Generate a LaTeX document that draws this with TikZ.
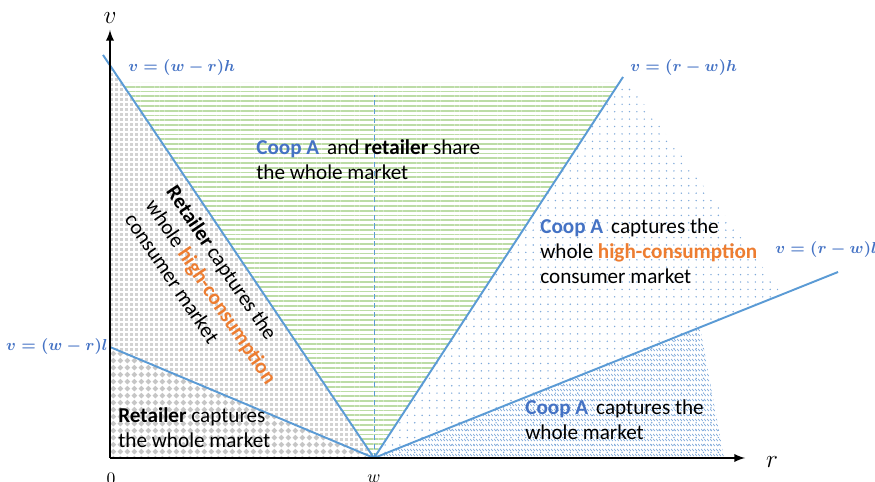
\documentclass[tikz,border=0pt]{standalone}
\usepackage{amsmath}
\usepackage{amssymb}
\usepackage[no-math]{fontspec}
\setmainfont{Carlito}
\usepackage{tikz}
\usetikzlibrary{arrows,%
                patterns,patterns.meta}
\definecolor{lineblue}{HTML}{5B9BD5}
\definecolor{coopblue}{HTML}{4472C4}
\definecolor{hcorange}{HTML}{ED7D31}
\definecolor{stripegreen}{HTML}{BCDCA6}
\definecolor{dotblue}{HTML}{7FA9DA}
\pgfdeclarepatternformonly{smallcheck}{\pgfqpoint{0pt}{0pt}}{\pgfqpoint{3pt}{3pt}}{\pgfqpoint{3pt}{3pt}}{%
  \pgfpathrectangle{\pgfqpoint{0pt}{0pt}}{\pgfqpoint{1.8pt}{1.8pt}}\pgfusepath{fill}}
\pgfdeclarepatternformonly{diamonds}{\pgfqpoint{0pt}{0pt}}{\pgfqpoint{3.9pt}{3.9pt}}{\pgfqpoint{3.9pt}{3.9pt}}{%
  \pgfpathmoveto{\pgfqpoint{1.95pt}{0.35pt}}\pgfpathlineto{\pgfqpoint{3.55pt}{1.95pt}}%
  \pgfpathlineto{\pgfqpoint{1.95pt}{3.55pt}}\pgfpathlineto{\pgfqpoint{0.35pt}{1.95pt}}%
  \pgfpathclose\pgfusepath{fill}}
\pgfdeclarepatternformonly{dashdiag}{\pgfqpoint{0pt}{0pt}}{\pgfqpoint{1.8pt}{2.8pt}}{\pgfqpoint{1.8pt}{2.8pt}}{%
  \pgfsetlinewidth{0.45pt}\pgfpathmoveto{\pgfqpoint{0.1pt}{2.3pt}}%
  \pgfpathlineto{\pgfqpoint{1.3pt}{1.1pt}}\pgfusepath{stroke}}
\tikzstyle{bound}=[draw=lineblue,line width=1.1pt]
\tikzstyle{midline}=[draw=lineblue,line width=0.5pt,dash pattern=on 3pt off 2pt]
\tikzstyle{axis}=[draw=black,line width=1.1pt]
\tikzstyle{txt}=[inner sep=0pt,align=left,font=\fontsize{12}{14.2}\selectfont]
\tikzstyle{eq}=[inner sep=0pt,text=coopblue,font=\fontsize{9.5}{10}\selectfont\mathversion{bold}]
\newcommand{\coop}{\textcolor{coopblue}{\textbf{Coop A}}}
\newcommand{\hicon}{\textcolor{hcorange}{\textbf{high-consumption}}}

\begin{document}
\begin{tikzpicture}[>=latex,line join=bevel,scale=0.565]
	  \useasboundingbox (-110bp,-24bp) rectangle (765bp,458bp);
	  \coordinate (O) at (0bp,0bp);
	  \coordinate (W) at (264bp,0bp);
	  \coordinate (R) at (635bp,0bp);
	  \coordinate (V) at (0bp,428bp);
	  \coordinate (Hl) at (-7bp,403bp);
	  \coordinate (Hr) at (513bp,381bp);
	  \coordinate (Ll) at (0bp,111bp);
	  \coordinate (Lr) at (728bp,186bp);
	  \coordinate (Hv) at (0bp,393bp);
	  \coordinate (Top) at (264bp,363bp);
	  % regions
	  \fill [pattern=diamonds,pattern color=gray!45] (O) -- (Ll) -- (W) -- cycle;
	  \fill [pattern=smallcheck,pattern color=gray!35] (Ll) -- (Hv) -- (W) -- cycle;
	  \fill [pattern={Lines[angle=0,distance=2.7pt,line width=1pt]},pattern color=stripegreen] (12bp,375bp) -- (509bp,375bp) -- (W) -- cycle;
	  \fill [pattern={Dots[distance=4.2pt,radius=0.45pt]},pattern color=dotblue] (W) -- (508bp,373bp) -- (520bp,373bp) -- (672bp,164bp) -- (590bp,131bp) -- (614bp,0bp) -- cycle;
	  \fill [pattern=dashdiag,pattern color=dotblue] (W) -- (590bp,131bp) -- (614bp,0bp) -- cycle;
	  % boundaries
	  \draw [midline] (W) -- (Top);
	  \draw [bound] (Hl) -- (W) -- (Hr);
	  \draw [bound] (Ll) -- (W) -- (Lr);
	  \draw [axis,->] (O) -- (R);
	  \draw [axis,->] (O) -- (V);
	  % axis labels
	  \node (v) at (0bp,440bp) {\Large$v$};
	  \node (r) at (662bp,-4bp) {\Large$r$};
	  \node (zero) at (1bp,-21bp) {\fontsize{10}{12}\selectfont$0$};
	  \node (w) at (264bp,-21bp) {\fontsize{10}{12}\selectfont$w$};
	  % equations
	  \node (eqHl) at (18bp,390bp) [eq,anchor=west] {$v=(w-r)h$};
	  \node (eqHr) at (520bp,390bp) [eq,anchor=west] {$v=(r-w)h$};
	  \node (eqLl) at (-2bp,111bp) [eq,anchor=east] {$v=(w-r)l$};
	  \node (eqLr) at (665bp,208bp) [eq,anchor=west] {$v=(r-w)l$};
	  % regions text
	  \node (share) at (146bp,298bp) [txt,anchor=west] {\coop\hspace{0.15em} and \textbf{retailer} share\\ the whole market};
	  \node (coopHi) at (430bp,207bp) [txt,anchor=west] {\coop\hspace{0.15em} captures the\\ whole \hicon\\ consumer market};
	  \node (coopAll) at (415bp,38bp) [txt,anchor=west] {\coop\hspace{0.15em} captures the\\ whole market};
	  \node (retAll) at (8bp,30bp) [txt,anchor=west] {\textbf{Retailer} captures\\ the whole market};
	  \node (retHi) at (68bp,275bp) [txt,rotate=-56,anchor=north west] {\textbf{Retailer} captures the\\ whole \hicon\\ consumer market};
    %
    \end{tikzpicture}
\end{document}
